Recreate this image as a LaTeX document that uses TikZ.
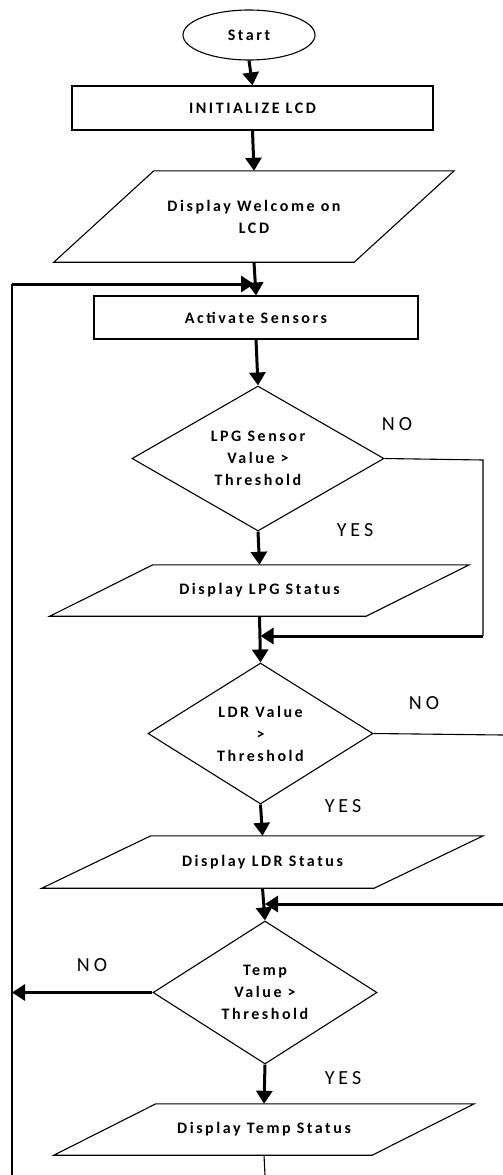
\documentclass[tikz,border=0pt]{standalone}
\usepackage{fontspec}
\newfontfamily\flowfont{Carlito}[LetterSpace=16]
\newfontfamily\flowlabelfont{Carlito}[LetterSpace=20]
\usetikzlibrary{shapes.geometric,arrows.meta}
\tikzset{
	flowtext/.style={font=\flowfont\bfseries\fontsize{16}{22}\selectfont,align=center,inner sep=0pt},
	flowstart/.style={flowtext,ellipse,draw=black,line width=1.1pt,minimum width=132pt,minimum height=50pt},
	flowproc/.style={flowtext,rectangle,draw=black,line width=1.1pt},
	flowio/.style={flowtext,rectangle,append after command={\pgfextra{\draw[flowline]
		([xshift=-#1pt]\tikzlastnode.south west) -- ([xshift=#1pt]\tikzlastnode.north west)
		-- ([xshift=#1pt]\tikzlastnode.north east) -- ([xshift=-#1pt]\tikzlastnode.south east) -- cycle;}}},
	flowdec/.style={flowtext,diamond,aspect=1.7,draw=black,line width=1.1pt},
	flowarrow/.style={draw=black,line width=3pt,-{Triangle[length=13pt,width=16pt]}},
	flowline/.style={draw=black,line width=1.1pt},
	flowlabel/.style={font=\flowlabelfont\fontsize{20}{24}\selectfont,inner sep=0pt}
}
\begin{document}
\begin{tikzpicture}[x=1pt,y=-1pt]
	\useasboundingbox (0,0) rectangle (503,1175);
	\node[flowstart] (start) at (249,35) {Start};
	\node[flowproc,minimum width=361pt,minimum height=44pt] (init) at (252.5,108) {INITIALIZE LCD};
	\node[flowio=50,minimum width=300pt,minimum height=91pt] (welcome) at (254,216.5) {Display Welcome on\\LCD};
	\node[flowproc,minimum width=324pt,minimum height=43pt] (activate) at (256,317.5) {Activate Sensors};
	\node[flowdec,minimum width=252pt,minimum height=145pt] (lpg) at (258,458.5) {LPG Sensor\\Value >\\Threshold};
	\node[flowio=51.5,minimum width=316pt,minimum height=51pt] (lpgstat) at (259.5,590.5) {Display LPG Status};
	\node[flowdec,minimum width=225pt,minimum height=141pt] (ldr) at (260.5,733.5) {LDR Value\\>\\Threshold};
	\node[flowio=54.5,minimum width=332pt,minimum height=52pt] (ldrstat) at (262.5,862) {Display LDR Status};
	\node[flowdec,minimum width=224pt,minimum height=143pt] (temp) at (265,992.5) {Temp\\Value >\\Threshold};
	\node[flowio=51,minimum width=318pt,minimum height=51pt] (tempstat) at (264,1129.5) {Display Temp Status};
	\node[flowlabel] (lpgno) at (397,424) {NO};
	\node[flowlabel] (lpgyes) at (355,530) {YES};
	\node[flowlabel] (ldrno) at (424,703) {NO};
	\node[flowlabel] (ldryes) at (343,806) {YES};
	\node[flowlabel] (tempno) at (92,965) {NO};
	\node[flowlabel] (tempyes) at (343,1078) {YES};
	\coordinate (loopL) at (12,284);
	\coordinate (loopB) at (12,1175);
	\coordinate (lpgR) at (483,460);
	\coordinate (lpgRB) at (483,636);
	\coordinate (ldrR) at (503,735);
	\coordinate (ldrRB) at (503,904);
	\coordinate (tempout) at (265,1175);
	\draw[flowarrow] (start.south) -- (init.north);
	\draw[flowarrow] (init.south) -- (welcome.north);
	\draw[flowarrow] (welcome.south) -- (activate.north);
	\draw[flowarrow] (activate.south) -- (lpg.north);
	\draw[flowarrow] (lpg.south) -- (lpgstat.north);
	\draw[flowarrow] (lpgstat.south) -- (ldr.north);
	\draw[flowarrow] (ldr.south) -- (ldrstat.north);
	\draw[flowarrow] (ldrstat.south) -- (temp.north);
	\draw[flowarrow] (temp.south) -- (tempstat.north);
	\draw[flowline] (tempstat.south) -- (tempout);
	\draw[flowline] (lpg.east) -- (lpgR) -- (lpgRB);
	\draw[flowarrow] (lpgRB) -- (lpgRB -| ldr.north);
	\draw[flowline] (ldr.east) -- (ldrR);
	\draw[flowarrow] (ldrRB) -- (ldrRB -| temp.north);
	\draw[flowarrow] (temp.west) -- (temp.west -| loopL);
	\draw[flowline] (loopB) -- (loopL);
	\draw[flowarrow] (loopL) -- (loopL -| welcome.south);
\end{tikzpicture}
\end{document}
